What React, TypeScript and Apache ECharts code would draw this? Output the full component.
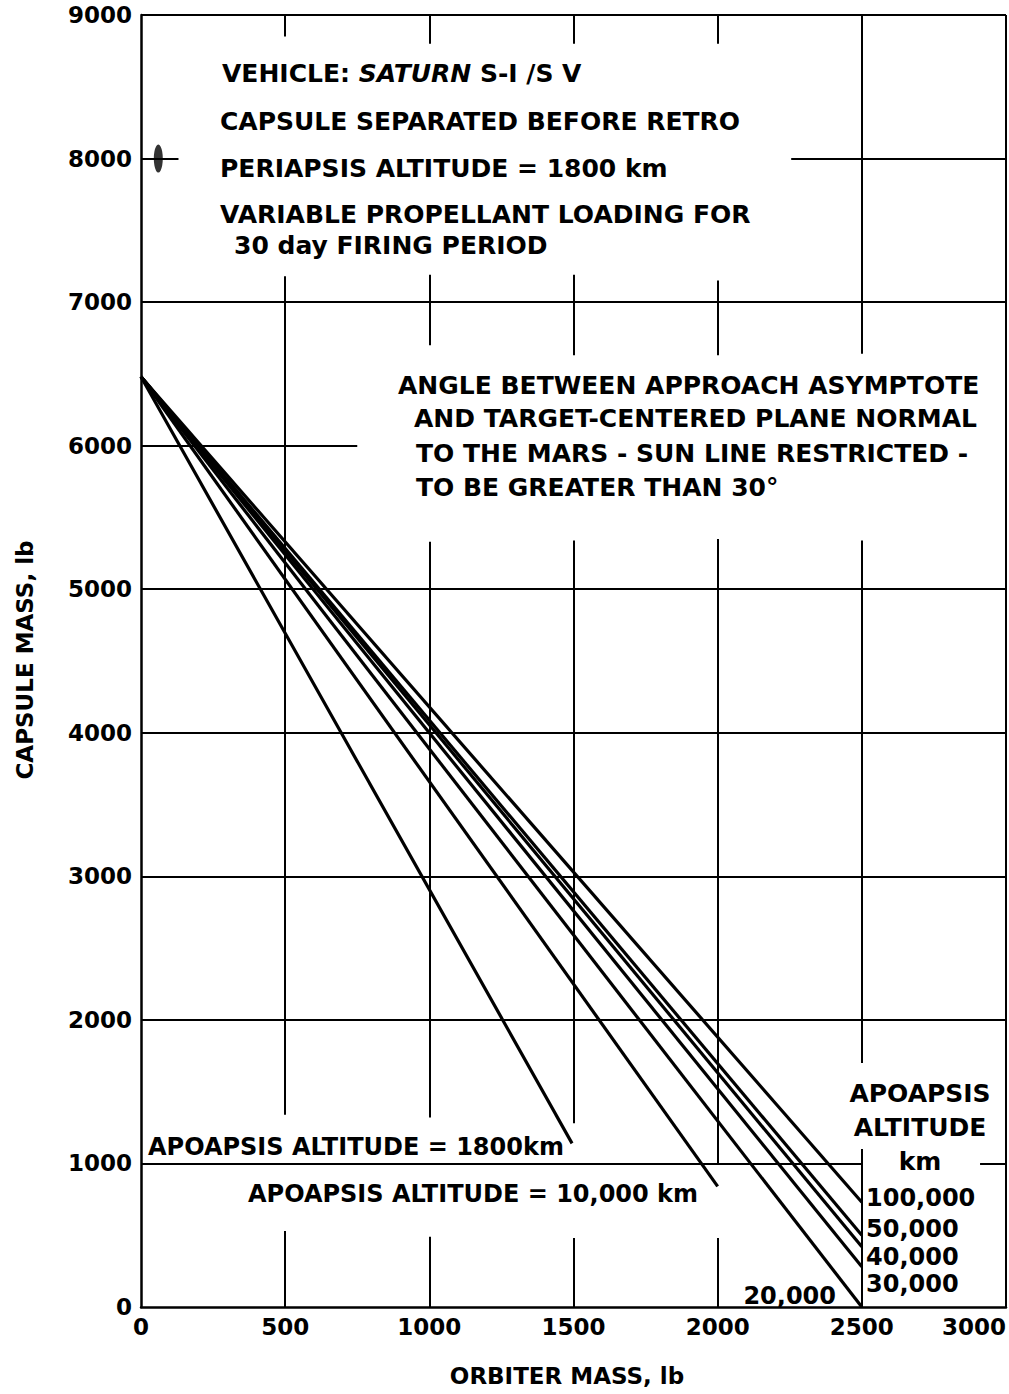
import React, { useEffect, useRef } from 'react';
import * as echarts from 'echarts';

// ---- data ----
const apoapsisLabels = ['1800', '10,000', '20,000', '30,000', '40,000', '50,000', '100,000'];
const orbiterStart = [0, 0, 0, 0, 0, 0, 0];
const capsuleStart = [6480, 6480, 6480, 6480, 6480, 6480, 6480];
const orbiterEnd = [1495, 2000, 2500, 2500, 2500, 2500, 2500];
const capsuleEnd = [1140, 840, 0, 280, 420, 500, 730];

const xMin = 0, xMax = 3000, xStep = 500;
const yMin = 0, yMax = 9000, yStep = 1000;

// interrupted grid lines: [x, yFrom, yTo] and [y, xFrom, xTo] in data units
const vGridSegments = [
  [500, 8850, 9000], [500, 1340, 7180], [500, 0, 530],
  [1000, 8800, 9000], [1000, 6700, 7190], [1000, 1320, 5330], [1000, 0, 490],
  [1500, 8800, 9000], [1500, 6630, 7190], [1500, 1280, 5340], [1500, 0, 480],
  [2000, 8800, 9000], [2000, 6630, 7150], [2000, 1000, 5350], [2000, 0, 480],
  [2500, 6640, 9000], [2500, 1700, 5340], [2500, 0, 1100],
  [3000, 0, 9000],
];
const hGridSegments = [
  [9000, 0, 3000], [8000, 0, 130], [8000, 2255, 3000], [7000, 0, 3000], [6000, 0, 750],
  [5000, 0, 3000], [4000, 0, 3000], [3000, 0, 3000], [2000, 0, 3000],
  [1000, 0, 2500], [1000, 2910, 3000],
];
const markerPoint = [[60, 8000]];

const FONT = "'DejaVu Sans', 'Liberation Sans', sans-serif";

function txt(text: string, x: number, y: number, o: any = {}) {
  return {
    type: 'text',
    x,
    y,
    rotation: o.rotation || 0,
    silent: true,
    z: 10,
    style: {
      text,
      fill: '#000',
      fontFamily: FONT,
      fontSize: o.size || 25,
      fontWeight: o.weight || 'bold',
      align: o.align || 'left',
      verticalAlign: 'middle',
      rich: o.rich,
    },
  };
}

export default function App() {
  const ref = useRef<HTMLDivElement>(null);
  useEffect(() => {
    document.body.style.margin = '0';
    if (!ref.current) return;
    const chart = echarts.init(ref.current, undefined, { renderer: 'svg' });

    const gridData = [
      ...vGridSegments.map(([x, a, b]) => ({ coords: [[x, a], [x, b]] })),
      ...hGridSegments.map(([y, a, b]) => ({ coords: [[a, y], [b, y]] })),
    ];

    const curveSeries = apoapsisLabels.map((name, i) => ({
      type: 'line',
      name,
      data: [
        [orbiterStart[i], capsuleStart[i]],
        [orbiterEnd[i], capsuleEnd[i]],
      ],
      symbol: 'none',
      silent: true,
      z: 4,
      lineStyle: { color: '#000', width: 3.2 },
    }));

    const label = {
      color: '#000',
      fontFamily: FONT,
      fontWeight: 'bold',
      fontSize: 23,
      formatter: (v: number) => String(v),
    };

    const main = { size: 25 };
    const rich = {
      a: { fontFamily: FONT, fontSize: 25, fontWeight: 'bold', color: '#000' },
      b: { fontFamily: FONT, fontSize: 25, fontWeight: 'bold', fontStyle: 'italic', color: '#000' },
    };

    chart.setOption({
      animation: false,
      backgroundColor: '#fff',
      grid: { left: 141, right: 1, top: 15, bottom: 87, containLabel: false },
      xAxis: {
        type: 'value',
        min: xMin,
        max: xMax,
        interval: xStep,
        axisLine: { show: true, lineStyle: { color: '#000', width: 2.5 } },
        axisTick: { show: false },
        splitLine: { show: false },
        axisLabel: { ...label, margin: 8, alignMaxLabel: 'right' },
      },
      yAxis: {
        type: 'value',
        min: yMin,
        max: yMax,
        interval: yStep,
        axisLine: { show: true, lineStyle: { color: '#000', width: 2.5 } },
        axisTick: { show: false },
        splitLine: { show: false },
        axisLabel: { ...label, margin: 9 },
      },
      series: [
        {
          type: 'lines',
          coordinateSystem: 'cartesian2d',
          data: gridData,
          silent: true,
          z: 1,
          lineStyle: { color: '#000', width: 2, opacity: 1 },
        },
        ...curveSeries,
        {
          type: 'scatter',
          data: markerPoint,
          symbol: 'circle',
          symbolSize: [9, 28],
          silent: true,
          itemStyle: { color: '#000' },
          z: 5,
        },
      ],
      graphic: [
        txt('{a|VEHICLE: }{b|SATURN}{a| S-I /S V}', 222, 73, { ...main, rich }),
        txt('CAPSULE SEPARATED BEFORE RETRO', 220, 121, main),
        txt('PERIAPSIS ALTITUDE = 1800 km', 220, 168, main),
        txt('VARIABLE PROPELLANT LOADING FOR', 220, 214, main),
        txt('30 day FIRING PERIOD', 234, 245, main),
        txt('ANGLE BETWEEN APPROACH ASYMPTOTE', 398, 385, main),
        txt('AND TARGET-CENTERED PLANE NORMAL', 414, 418, main),
        txt('TO THE MARS - SUN LINE RESTRICTED -', 416, 453, main),
        txt('TO BE GREATER THAN 30°', 416, 487, main),
        txt('APOAPSIS ALTITUDE = ' + apoapsisLabels[0] + 'km', 148, 1147, { size: 24 }),
        txt('APOAPSIS ALTITUDE = ' + apoapsisLabels[1] + ' km', 248, 1194, { size: 24 }),
        txt('APOAPSIS', 920, 1093, { size: 25, align: 'center' }),
        txt('ALTITUDE', 920, 1127, { size: 25, align: 'center' }),
        txt('km', 920, 1161, { size: 25, align: 'center' }),
        txt(apoapsisLabels[6], 866, 1198, { size: 24 }),
        txt(apoapsisLabels[5], 866, 1229, { size: 24 }),
        txt(apoapsisLabels[4], 866, 1257, { size: 24 }),
        txt(apoapsisLabels[3], 866, 1284, { size: 24 }),
        txt(apoapsisLabels[2], 836, 1296, { size: 24, align: 'right' }),
        txt('CAPSULE MASS, lb', 25, 660, { size: 23, align: 'center', rotation: Math.PI / 2 }),
        txt('ORBITER MASS, lb', 567, 1376, { size: 23, align: 'center' }),
      ],
    });
    return () => chart.dispose();
  }, []);
  return (
    <div
      ref={ref}
      style={{ position: 'absolute', left: 0, top: 0, width: 1009, height: 1394, background: '#fff' }}
    />
  );
}
